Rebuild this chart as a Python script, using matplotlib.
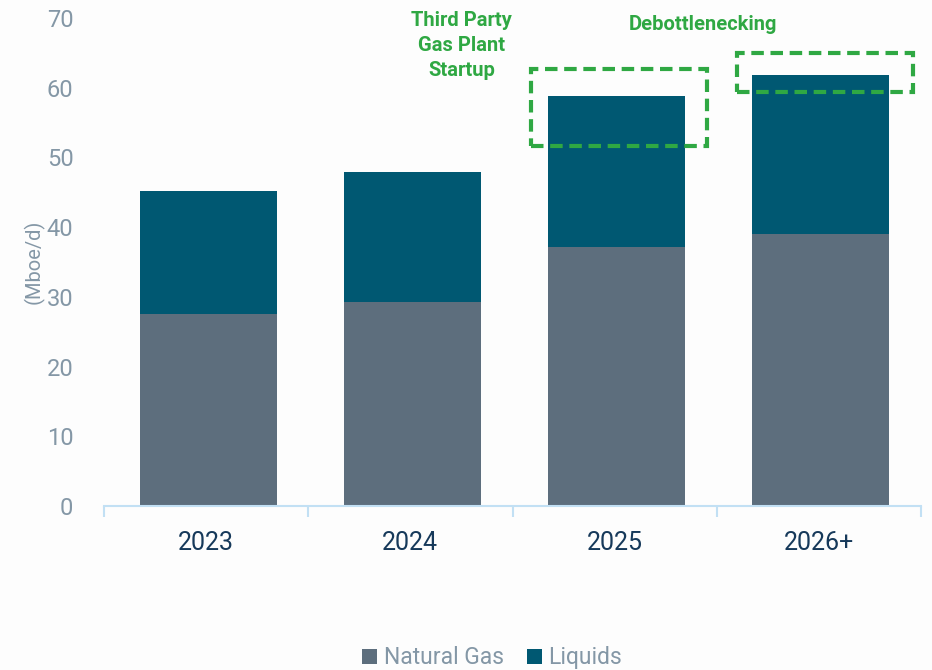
import matplotlib.pyplot as plt
from matplotlib.patches import Rectangle

# dane (Mboe/d)
years = ['2023', '2024', '2025', '2026+']
natural_gas = [27.5, 29.3, 37.2, 39.0]
liquids = [17.7, 18.6, 21.6, 22.8]

# ramki z adnotacjami: (x0, x1, y0, y1) w jednostkach osi
box_2025 = (1.59, 2.45, 51.6, 62.7)
box_2026 = (2.60, 3.46, 59.4, 65.0)

plt.rcParams['font.family'] = ['Roboto', 'DejaVu Sans']

c_gas = '#5d6e7d'
c_liq = '#005872'
c_green = '#2fa843'
c_tick = '#8497a6'

fig = plt.figure(figsize=(9.32, 6.7), dpi=100, facecolor='#fdfdfd')
ax = fig.add_axes([0.1116, 0.2448, 0.8766, 0.7284])
ax.set_facecolor('#fdfdfd')

x = range(len(years))
ax.bar([i + 0.01 for i in x], natural_gas, width=0.67, color=c_gas, label='Natural Gas')
ax.bar([i + 0.01 for i in x], liquids, width=0.67, bottom=natural_gas, color=c_liq, label='Liquids')

for b in (box_2025, box_2026):
    ax.add_patch(Rectangle((b[0], b[2]), b[1] - b[0], b[3] - b[2], fill=False,
                           edgecolor=c_green, linewidth=3, linestyle=(0, (3, 1.6)),
                           clip_on=False))

ax.text(1.25, 66.1, 'Third Party\nGas Plant\nStartup', ha='center', va='center',
        color=c_green, fontsize=14.5, fontweight='bold', linespacing=1.4)
ax.text(2.43, 69.1, 'Debottlenecking', ha='center', va='center',
        color=c_green, fontsize=14.5, fontweight='bold')

ax.set_xlim(-0.5, 3.5)
ax.set_ylim(0, 70)
ax.set_yticks(range(0, 71, 10))
ax.set_xticks(list(x))
ax.set_xticklabels(years)
ax.set_xticks([-0.5, 0.5, 1.5, 2.5, 3.5], minor=True)

for s in ['top', 'right', 'left']:
    ax.spines[s].set_visible(False)
ax.spines['bottom'].set_color('#c2e0f4')
ax.spines['bottom'].set_linewidth(1.5)

ax.tick_params(axis='y', length=0, labelsize=17, labelcolor=c_tick, pad=22)
ax.tick_params(axis='x', which='major', length=0, labelsize=18, labelcolor='#16395a', pad=18)
ax.tick_params(axis='x', which='minor', length=8, width=1.5, color='#c2e0f4', direction='out')

ax.set_ylabel('(Mboe/d)', fontsize=14.5, color=c_tick)
ax.yaxis.set_label_coords(-0.073, 0.5)

leg = fig.legend(loc='lower center', bbox_to_anchor=(0.528, -0.03), ncol=2, frameon=False,
                 fontsize=16.5, handlelength=0.65, handleheight=0.65, handletextpad=0.3,
                 columnspacing=1.0)
for t in leg.get_texts():
    t.set_color(c_tick)

fig.savefig('out.png', dpi=100, facecolor=fig.get_facecolor())
